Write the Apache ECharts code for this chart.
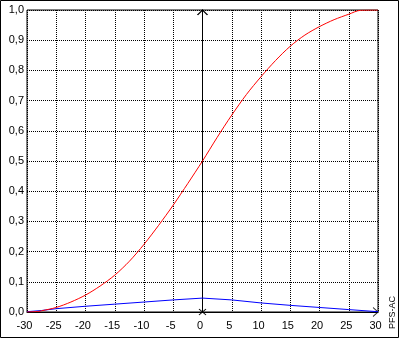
<!DOCTYPE html>
<html>
<head>
<meta charset="utf-8">
<style>
  html, body { margin: 0; padding: 0; background: #fff; }
  #chart { width: 401px; height: 340px; }
</style>
<script src="https://cdn.jsdelivr.net/npm/echarts@6/dist/echarts.min.js"></script>
</head>
<body>
<div id="chart"></div>
<script>
// Axis tick labels
const xTickLabels = ['-30', '-25', '-20', '-15', '-10', '-5', '0', '5', '10', '15', '20', '25', '30'];
const yTickLabels = ['0,0', '0,1', '0,2', '0,3', '0,4', '0,5', '0,6', '0,7', '0,8', '0,9', '1,0'];

// Cumulative curve (red)
const cumX = [-30, -28, -27.5, -25, -22.5, -20, -17.5, -15, -12.5, -10, -7.5, -5, -2.5, 0,
              2.5, 5, 7.5, 10, 12.5, 15, 17.5, 20, 22.5, 25, 27, 30];
const cumY = [0, 0.002, 0.004, 0.015, 0.033, 0.056, 0.086, 0.122, 0.168, 0.224, 0.287, 0.354, 0.426, 0.5,
              0.578, 0.652, 0.72, 0.779, 0.833, 0.88, 0.917, 0.945, 0.968, 0.986, 0.999, 1.0];

// Density curve (blue)
const denX = [-30, -27.5, -25, -20, -15, -10, -5, 0, 5, 10, 15, 20, 25, 30];
const denY = [0.001, 0.005, 0.011, 0.019, 0.026, 0.033, 0.040, 0.046, 0.040, 0.030, 0.022, 0.015, 0.008, 0.001];

// Axis markers: zero line and x-axis end
const zeroLine = [[0, 0], [0, 1]];
const xAxisEnd = [30, 0];

const LABEL_FONT = 'Arial, "Liberation Sans", sans-serif';

const chart = echarts.init(document.getElementById('chart'), null, { renderer: 'canvas' });

const pairs = (xs, ys) => xs.map((x, i) => [x, ys[i]]);

const chevronUp = 'path://M0,10 L5,0 L10,10';
const chevronRight = 'path://M0,0 L5,5 L0,10';
const crossMark = 'path://M0,0 L7,6 M7,0 L0,6';

chart.setOption({
  animation: false,
  backgroundColor: '#fff',
  grid: {
    left: 27, top: 10, width: 351, height: 302,
    show: true, borderColor: '#000', borderWidth: 1, backgroundColor: 'transparent'
  },
  xAxis: {
    type: 'value', min: -30, max: 30, interval: 5,
    axisLine: { show: true, onZero: false, lineStyle: { color: '#000', width: 1 } },
    axisTick: { show: false },
    axisLabel: {
      color: '#000', fontSize: 11, fontFamily: LABEL_FONT, margin: 8,
      padding: [0, 5, 0, 0],
      formatter: (v) => xTickLabels[Math.round((v + 30) / 5)]
    },
    splitLine: { show: true, lineStyle: { color: '#000', width: 1, type: [1, 1] } }
  },
  yAxis: {
    type: 'value', min: 0, max: 1, interval: 0.1,
    axisLine: { show: true, lineStyle: { color: '#000', width: 1 } },
    axisTick: { show: false },
    axisLabel: {
      color: '#000', fontSize: 11, fontFamily: LABEL_FONT, margin: 3,
      formatter: (v) => yTickLabels[Math.round(v * 10)]
    },
    splitLine: { show: true, lineStyle: { color: '#000', width: 1, type: [1, 1] } }
  },
  series: [
    {
      name: 'zero',
      type: 'line',
      silent: true,
      data: [
        { value: zeroLine[0], symbol: crossMark, symbolSize: [7, 6] },
        { value: zeroLine[1], symbol: chevronUp, symbolSize: [10, 5], symbolOffset: [0, 2.5] }
      ],
      showSymbol: true,
      lineStyle: { color: '#000', width: 1 },
      itemStyle: { color: 'transparent', borderColor: '#000', borderWidth: 1 },
      emphasis: { disabled: true },
      z: 2
    },
    {
      name: 'axisEnd',
      type: 'scatter',
      silent: true,
      data: [xAxisEnd],
      symbol: chevronRight,
      symbolSize: [5, 9],
      symbolOffset: [-2.5, 0],
      itemStyle: { color: 'transparent', borderColor: '#000', borderWidth: 1 },
      emphasis: { disabled: true },
      z: 2
    },
    {
      name: 'density',
      type: 'line',
      silent: true,
      data: pairs(denX, denY),
      showSymbol: false,
      lineStyle: { color: '#0000ff', width: 1 },
      emphasis: { disabled: true },
      z: 3
    },
    {
      name: 'cumulative',
      type: 'line',
      silent: true,
      data: pairs(cumX, cumY),
      smooth: 0.3,
      showSymbol: false,
      lineStyle: { color: '#ff0000', width: 1 },
      emphasis: { disabled: true },
      z: 4
    }
  ],
  graphic: [
    {
      type: 'rect',
      shape: { x: 0.5, y: 0.5, width: 398, height: 337 },
      style: { fill: 'none', stroke: '#000', lineWidth: 1 },
      silent: true
    },
    {
      type: 'text',
      x: 392.5, y: 312.5,
      rotation: Math.PI / 2,
      style: {
        text: 'PFS-AC', fill: '#000',
        font: '9px ' + LABEL_FONT,
        align: 'center', verticalAlign: 'middle'
      },
      silent: true
    }
  ]
});
</script>
</body>
</html>
